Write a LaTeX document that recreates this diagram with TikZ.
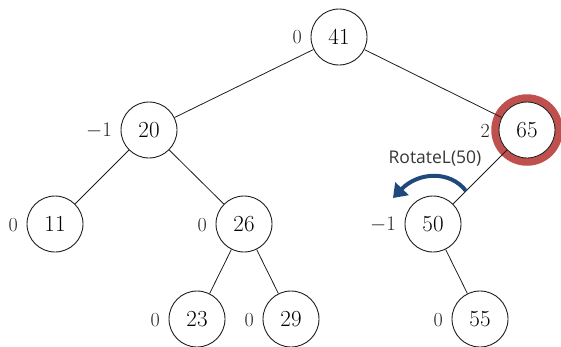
\documentclass[tikz,border=0pt]{standalone}
\usepackage{fontspec}
\newfontfamily\opsans{Open Sans}
\usetikzlibrary{arrows.meta}
\definecolor{edgegray}{RGB}{30,30,30}
\definecolor{labelgray}{RGB}{35,35,35}
\definecolor{textgray}{RGB}{55,55,55}
\definecolor{ringred}{RGB}{192,80,77}
\definecolor{rotblue}{RGB}{31,73,125}
\tikzset{
  keynode/.style={circle,draw=edgegray,line width=0.9pt,fill=white,minimum size=56pt,inner sep=0pt,font=\fontsize{23}{25}\selectfont},
  balnode/.style={anchor=east,inner sep=0pt,text=labelgray,font=\fontsize{20}{22}\selectfont},
  treeedge/.style={draw=edgegray,line width=0.8pt},
}
\begin{document}
\begin{tikzpicture}[x=1pt,y=-1pt]
\useasboundingbox (0,0) rectangle (561,346);
% highlighted node ring
\draw[ringred,line width=7.5pt] (527,130) circle (32);
% keys
\node[keynode] (n41) at (339,37) {41};
\node[keynode] (n20) at (149,130) {20};
\node[keynode] (n65) at (527,130) {65};
\node[keynode] (n11) at (55,224) {11};
\node[keynode] (n26) at (244,224) {26};
\node[keynode] (n50) at (433,224) {50};
\node[keynode] (n23) at (197,319) {23};
\node[keynode] (n29) at (291,319) {29};
\node[keynode] (n55) at (480,319) {55};
% balance factors
\node[balnode] (b41) at (302,37) {0};
\node[balnode] (b20) at (112,131) {$-1$};
\node[balnode] (b65) at (490,131) {2};
\node[balnode] (b11) at (18,225) {0};
\node[balnode] (b26) at (207,225) {0};
\node[balnode] (b50) at (396,225) {$-1$};
\node[balnode] (b23) at (160,320) {0};
\node[balnode] (b29) at (254,320) {0};
\node[balnode] (b55) at (443,320) {0};
% tree edges
\path[treeedge] (n41) -- (n20);
\path[treeedge] (n41) -- (n65);
\path[treeedge] (n20) -- (n11);
\path[treeedge] (n20) -- (n26);
\path[treeedge] (n26) -- (n23);
\path[treeedge] (n26) -- (n29);
\path[treeedge] (n65) -- (n50);
\path[treeedge] (n50) -- (n55);
% rotation
\node[text=textgray,font=\opsans\fontsize{17.5}{19}\selectfont] (rot) at (435,159) {RotateL(50)};
\coordinate (rs) at (466,191);
\coordinate (re) at (393,198);
\draw[rotblue,line width=4pt,-{Triangle[length=13pt,width=18pt]}] (rs) .. controls (450,170) and (418,172) .. (re);
\end{tikzpicture}
\end{document}
